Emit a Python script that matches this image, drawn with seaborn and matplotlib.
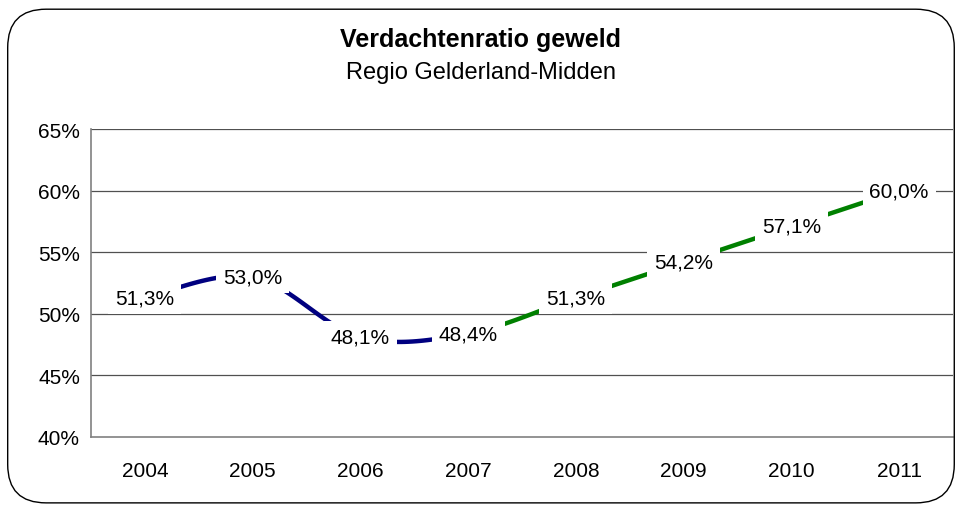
import numpy as np
import pandas as pd
import seaborn as sns
import matplotlib.pyplot as plt
from matplotlib.patches import FancyBboxPatch
from matplotlib.ticker import FuncFormatter

years = ['2004', '2005', '2006', '2007', '2008', '2009', '2010', '2011']
ratio = [51.3, 53.0, 48.1, 48.4, 51.3, 54.2, 57.1, 60.0]
split = 3  # 2004-2007 navy, 2007-2011 green

sns.set_style('white')
plt.rcParams['font.family'] = ['Liberation Sans', 'DejaVu Sans']
plt.rcParams['text.color'] = 'black'
plt.rcParams['xtick.color'] = 'black'
plt.rcParams['ytick.color'] = 'black'

fig = plt.figure(figsize=(9.61, 5.1), dpi=100)
ax = fig.add_axes([0.0947, 0.1412, 0.8970, 0.6038])

# rounded frame round the chart
fig.patches.append(FancyBboxPatch((0.008, 0.012), 0.985, 0.968,
                                  boxstyle='round,pad=0,rounding_size=0.04',
                                  transform=fig.transFigure, fill=False,
                                  edgecolor='black', linewidth=1.0,
                                  mutation_aspect=961 / 510))


# smoothed line like excel (catmull-rom through the points)
def smooth(xs, ys, n=30):
    px = np.r_[xs[0], xs, xs[-1]]
    py = np.r_[ys[0], ys, ys[-1]]
    ox, oy = [], []
    for i in range(1, len(px) - 2):
        t = np.linspace(0, 1, n)
        for p, o in ((px, ox), (py, oy)):
            p0, p1, p2, p3 = p[i - 1], p[i], p[i + 1], p[i + 2]
            o.extend(0.5 * (2 * p1 + (-p0 + p2) * t
                            + (2 * p0 - 5 * p1 + 4 * p2 - p3) * t ** 2
                            + (-p0 + 3 * p1 - 3 * p2 + p3) * t ** 3))
    return np.array(ox), np.array(oy)


x = np.arange(len(years))
sx, sy = smooth(x, np.array(ratio))
df = pd.DataFrame({'x': sx, 'y': sy})
first = df[df['x'] <= split]
second = df[df['x'] >= split]
sns.lineplot(data=first, x='x', y='y', color='#000080', linewidth=3.2,
             sort=False, ax=ax, zorder=3)
sns.lineplot(data=second, x='x', y='y', color='#008000', linewidth=3.2,
             sort=False, ax=ax, zorder=3)

for xi, v in zip(x, ratio):
    ax.text(xi, v, f'{v:.1f}%'.replace('.', ','), ha='center', va='center',
            fontsize=15, zorder=5,
            bbox=dict(facecolor='white', edgecolor='none', pad=5))

ax.set_xlim(-0.5, len(years) - 0.5)
ax.set_ylim(40, 65)
ax.set_yticks(range(40, 66, 5))
ax.yaxis.set_major_formatter(FuncFormatter(lambda v, p: f'{v:.0f}%'))
ax.set_xticks(x)
ax.set_xticklabels(years)
ax.set_xticks(np.arange(-0.5, len(years)), minor=True)
ax.tick_params(axis='x', which='major', length=0, pad=17, labelsize=15)
ax.tick_params(axis='x', which='minor', length=4, color='#808080', direction='out')
ax.tick_params(axis='y', length=4, color='#808080', direction='out', labelsize=15, pad=4)
ax.set_xlabel('')
ax.set_ylabel('')

for g in range(45, 66, 5):
    ax.axhline(g, color='#505050', linewidth=0.9, zorder=1)

for s in ['top', 'right']:
    ax.spines[s].set_visible(False)
for s in ['left', 'bottom']:
    ax.spines[s].set_color('#808080')
    ax.spines[s].set_linewidth(1.2)

fig.text(0.5, 0.922, 'Verdachtenratio geweld', ha='center', va='center',
         fontsize=18, fontweight='bold')
fig.text(0.5, 0.857, 'Regio Gelderland-Midden', ha='center', va='center',
         fontsize=17)

plt.savefig('out.png', dpi=100)
